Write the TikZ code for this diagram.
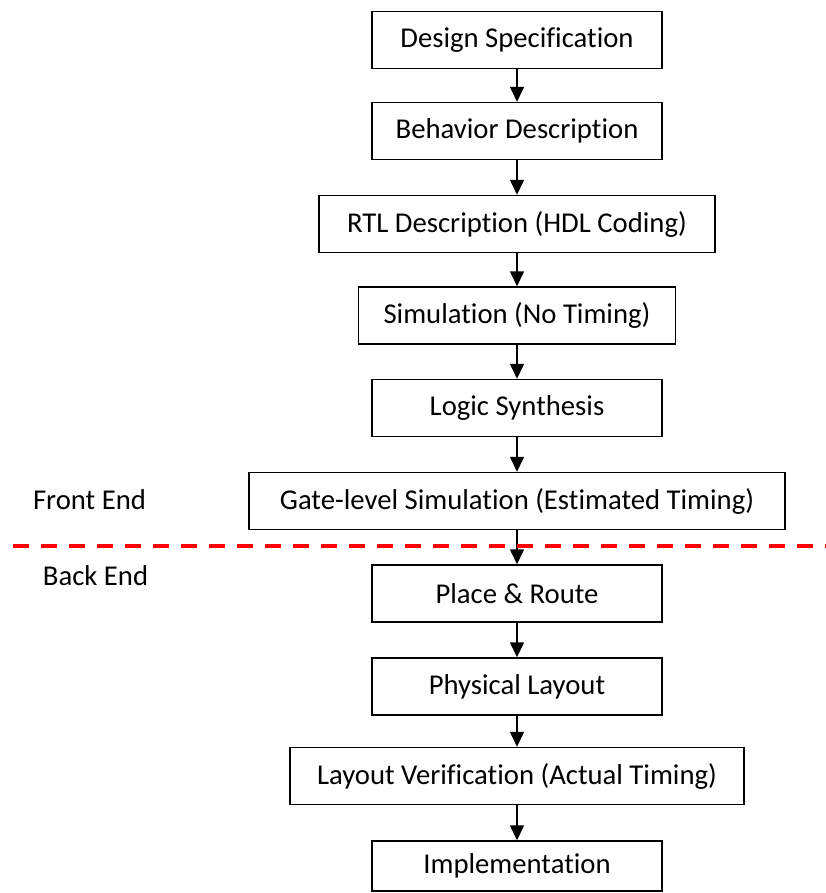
\documentclass[tikz,border=0pt]{standalone}
\usepackage{fontspec}
\setmainfont{Carlito}[Ligatures=NoCommon]
\usetikzlibrary{arrows.meta}

\begin{document}
\begin{tikzpicture}[x=1pt,y=1pt,
	stage/.style={draw,line width=1.4pt,minimum height=57pt,minimum width=290pt,inner sep=0pt,font=\fontsize{28.7}{34}\selectfont},
	side/.style={font=\fontsize{28.7}{34}\selectfont},
	flow/.style={line width=1.4pt,-{Triangle[width=14pt,length=15pt]}}]
	\useasboundingbox (0,0) rectangle (826,-893);
	
	\node[stage] (spec) at (517,-40) {Design Specification};
	\node[stage] (behav) at (517,-131) {Behavior Description};
	\node[stage,minimum width=396pt] (rtl) at (517,-224) {RTL Description (HDL Coding)};
	\node[stage,minimum width=317pt] (simnt) at (517,-315.5) {Simulation (No Timing)};
	\node[stage] (synth) at (517,-408) {Logic Synthesis};
	\node[stage,minimum width=536pt] (gatesim) at (517,-501) {Gate-level Simulation (Estimated Timing)};
	
	\node[stage] (pnr) at (517,-593.5) {Place \& Route};
	\node[stage] (phys) at (517,-686.5) {Physical Layout};
	\node[stage,minimum width=454pt] (verif) at (517,-776) {Layout Verification (Actual Timing)};
	\node[stage,minimum height=50pt] (impl) at (517,-866) {Implementation};
	
	\node[side] (front) at (89.5,-500) {Front End};
	\node[side] (back) at (95.5,-576) {Back End};
	
	\coordinate (cutL) at (13,-546);
	\coordinate (cutR) at (826,-546);
	
	\draw[flow] (spec) -- (behav);
	\draw[flow] (behav) -- (rtl);
	\draw[flow] (rtl) -- (simnt);
	\draw[flow] (simnt) -- (synth);
	\draw[flow] (synth) -- (gatesim);
	\draw[flow] (gatesim) -- (pnr);
	\draw[flow] (pnr) -- (phys);
	\draw[flow] (phys) -- (verif);
	\draw[flow] (verif) -- (impl);
	
	\draw[red,line width=4pt,dash pattern=on 16pt off 12pt] (cutL) -- (cutR);	%front/back split
\end{tikzpicture}
\end{document}
